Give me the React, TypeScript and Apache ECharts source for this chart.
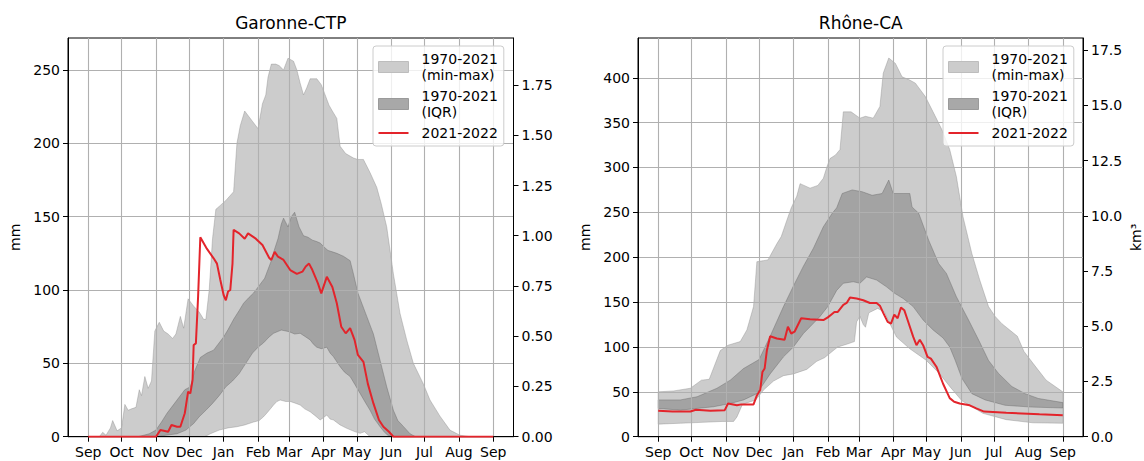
import React, { useEffect, useRef } from "react";
import * as echarts from "echarts";

// ---------- shared axis data ----------
const monthDays = [0, 30, 61, 91, 122, 153, 181, 212, 242, 273, 303, 334, 365];
const monthLabels = ["Sep", "Oct", "Nov", "Dec", "Jan", "Feb", "Mar", "Apr", "May", "Jun", "Jul", "Aug", "Sep"];
const garMmTicks = [0, 50, 100, 150, 200, 250];
const garKmTicks = [0, 0.25, 0.5, 0.75, 1.0, 1.25, 1.5, 1.75];
const rhoMmTicks = [0, 50, 100, 150, 200, 250, 300, 350, 400];
const rhoKmTicks = [0, 2.5, 5, 7.5, 10, 12.5, 15, 17.5];

const NAME_MINMAX = "1970-2021\n(min-max)";
const NAME_IQR = "1970-2021\n(IQR)";
const NAME_CUR = "2021-2022";

// ---------- Garonne-CTP (mm) ----------
const garMaxDays = [0,10,13,16,20,22,26,30,33,36,39,43,46,48,51,54,57,60,64,68,72,76,79,83,86,90,95,100,104,106,109,112,115,118,124,131,134,137,141,145,149,153,157,160,162,165,169,172,176,180,185,188,191,194,197,200,206,210,213,217,220,224,227,232,239,243,248,254,260,264,269,275,281,287,293,302,308,317,326,335,344,365];
const garMax = [0,0,3,1,6,11,4,6,22,18,19,20,32,28,41,33,38,72,78,72,70,67,70,82,74,94,89,85,80,80,100,135,155,157,161,167,200,212,222,218,214,210,227,233,245,254,254,253,250,258,256,250,241,233,238,244,244,240,234,226,222,217,198,193,190,189,189,180,170,159,143,111,84,66,50,36,25,14,4.5,1,0,0];
const garQ75Days = [0,45,55,61,66,71,75,80,87,92,96,101,107,113,118,122,126,131,136,140,145,149,155,159,162,165,168,171,174,176,180,183,186,190,194,198,202,206,209,213,216,220,224,230,236,239,243,247,251,257,263,269,275,279,284,290,295,365];
const garQ75 = [0,0,2,4.5,10,16,20,25,32,34,45,54,57,59,64,68,73,80,86,91,95,98,104,108,114,120,128,135,145,149,143,150,153,143,137,136,134,133,132,129,127,126,125,123,120,111,98,90,82,70,52,34,18,11,7,2,0,0];
const garQ25Days = [0,62,70,80,88,95,100,106,112,118,124,130,136,142,148,153,158,163,167,174,181,186,191,196,200,203,206,210,215,218,221,227,231,236,240,245,250,254,258,263,267,270,275,365];
const garQ25 = [0,0,1,2,4.5,9,13.6,18,22.7,28,34,38,43,50,57,61,64,68,70.5,72.7,71.6,70,70.5,68,66,63,61,60,61,57,54.5,47.7,44,41,36,29.5,23,18,12,6.8,3,1,0,0];
const garMinDays = [0,105,110,118,126,134,141,149,154,158,162,167,170,173,178,182,186,191,195,200,205,209,212,215,218,221,227,233,240,245,249,254,365];
const garMin = [0,0,2,4.5,6,6.8,8,10,11,13.6,17,21.6,24,25,24,24,23,21.6,19,17,14,11.4,13,14.8,12,11.4,8,5.7,3.5,2.3,3.4,0,0];
const garCurDays = [0,61,65,72,75,80,83,87,90,92,94,95,97,99,101,107,113,116,119,122,124,126,128,130,131,136,141,144,151,157,163,165,168,171,176,182,188,193,196,199,202,207,210,215,220,224,228,232,236,240,243,248,252,257,262,266,271,275,365];
const garCur = [0,0,4.5,3.4,8,6.8,6.8,16,30.7,29.5,38.6,62.5,63.6,95.5,136,128,121.6,118,107,96.6,93,99,100,118,141,138.6,135,138.6,135,130.7,122,120.5,126,122.7,120.5,113.6,111,112.5,116,118,113.6,104.5,97.7,109,102,91,75,70.5,74,66,55.7,51,36,22.7,11.4,6.8,3.4,0,0];

// ---------- Rhône-CA (mm) ----------
const rhoMaxDays = [0,14,29,39,46,51,56,63,74,80,86,89,99,107,111,116,120,125,128,137,144,149,152,155,160,164,167,174,182,187,194,200,203,208,214,220,226,232,241,250,256,263,269,275,283,290,298,304,310,318,324,330,338,350,365];
const rhoMax = [50,51,54,63,64,80,96,102,106,119,145,195,197,215,223,241,255,268,282,277,280,288,300,310,314,320,362,362,355,357,355,368,405,422,416,401,398,394,379,357,342,320,290,245,204,175,145,134,126,118,112,95,82,63,50];
const rhoQ75Days = [0,20,35,53,65,77,91,101,113,122,131,140,149,157,161,166,175,184,193,202,208,212,221,227,229,235,244,253,260,269,280,289,298,307,319,331,343,365];
const rhoQ75 = [41,41,44.5,54,63,76,86,112,145,168,190,210,234,249,255,271,275,273,269,271,286,271,271,271,256,249,219,193,182,156,130,108,85,70.5,56,48,42.6,38];
const rhoQ25Days = [0,20,35,50,65,77,89,101,113,122,131,137,146,153,161,167,176,182,188,197,206,213,221,230,239,248,257,263,268,274,283,295,313,337,365];
const rhoQ25 = [31.5,29.6,31.5,33.4,37,41,48,70,89,100,115,122.5,134,145,163,171,172.7,171,178,174.6,167,160,154,145,130,119,110,100,85,65,48,41,35,33,32];
const rhoMinDays = [0,20,40,58,68,71,76,88,95,104,113,122,134,143,150,158,162,170,177,179,182,185,187,190,198,204,209,215,227,242,254,263,274,293,314,338,365];
const rhoMin = [14,15,16,17,17,22,36,41,52,62,68,70,75,84,88,96,100,103,106,128,134,125,122,138,143,139,126,111,98,85,70,56,40,26,19,15.5,15];
const rhoCurDays = [0,13,29,34,47,60,63,71,75,86,89,92,94,96,98,101,107,114,117,120,123,126,129,137,149,153,156,159,162,167,170,173,179,185,191,197,200,203,207,210,213,216,219,222,225,230,233,236,239,243,246,251,257,263,267,272,281,287,294,314,344,365];
const rhoCur = [29,28,28,30,29,29.6,37,35,36,36,46,52,72,76,96,112,109.5,108,122.5,115,117,124.5,132,131,130,133,136,139,139,147,149,155,154,152,149,149,146,138,128,126,136,132,144,141,130,111.5,102,108,102,89,87,78,59,43,39,37,35,31.5,28,26.7,25,24];

const FONT = "'DejaVu Sans', 'Liberation Sans', sans-serif";
const BLACK = "#000000";
const GRIDC = "#b0b0b0";
const RED = "#e3242b";
// legend icon: a 2px horizontal stroke inside a 30x11 box (tiny corner anchors keep the box size)
const LINE_ICON = "path://M0,0L0.01,0L0,0.01Z M0,4.5L30,4.5L30,6.5L0,6.5Z M30,11L29.99,11L30,10.99Z";

function pairs(d: number[], v: number[]) {
  return d.map((x, i) => [x, v[i]]);
}

function band(name: string, upD: number[], upV: number[], loD: number[], loV: number[], fill: string, stroke: string, xi: number, yi: number) {
  return {
    type: "custom",
    name,
    xAxisIndex: xi,
    yAxisIndex: yi,
    z: 2,
    silent: true,
    clip: true,
    data: [[0, 0]],
    renderItem: (_p: any, api: any) => {
      const pts: number[][] = [];
      for (let i = 0; i < upD.length; i++) pts.push(api.coord([upD[i], upV[i]]));
      for (let i = loD.length - 1; i >= 0; i--) pts.push(api.coord([loD[i], loV[i]]));
      return { type: "polygon", shape: { points: pts }, style: { fill, stroke, lineWidth: 0.8 } };
    },
  };
}

function xAxis(gridIndex: number) {
  return {
    type: "value",
    gridIndex,
    min: -18.25,
    max: 383.25,
    z: 3,
    axisLine: { show: true, onZero: false, lineStyle: { color: BLACK, width: 1 } },
    axisTick: { show: true, length: 5, customValues: monthDays, lineStyle: { color: BLACK, width: 1 } },
    axisLabel: {
      customValues: monthDays,
      formatter: (v: number) => {
        const i = monthDays.indexOf(Math.round(v));
        return i >= 0 ? monthLabels[i] : "";
      },
      fontSize: 14,
      fontFamily: FONT,
      color: BLACK,
      margin: 8,
    },
    splitLine: { show: true, lineStyle: { color: GRIDC, width: 1.1 } },
  };
}

function mmAxis(gridIndex: number, max: number, ticks: number[]) {
  return {
    type: "value",
    gridIndex,
    position: "left",
    min: 0,
    max,
    z: 3,
    name: "mm",
    nameLocation: "middle",
    nameGap: 46,
    nameRotate: 90,
    nameTextStyle: { fontSize: 14, fontFamily: FONT, color: BLACK },
    axisLine: { show: true, onZero: false, lineStyle: { color: BLACK, width: 1 } },
    axisTick: { show: true, length: 5, customValues: ticks, lineStyle: { color: BLACK, width: 1 } },
    axisLabel: { customValues: ticks, fontSize: 14, fontFamily: FONT, color: BLACK, margin: 8 },
    splitLine: { show: true, lineStyle: { color: GRIDC, width: 1.1 } },
  };
}

function kmAxis(gridIndex: number, max: number, ticks: number[], digits: number, name: string) {
  return {
    type: "value",
    gridIndex,
    position: "right",
    min: 0,
    max,
    z: 3,
    name,
    nameLocation: "middle",
    nameGap: 46,
    nameRotate: 90,
    nameTextStyle: { fontSize: 14, fontFamily: FONT, color: BLACK },
    axisLine: { show: true, onZero: false, lineStyle: { color: BLACK, width: 1 } },
    axisTick: { show: true, length: 5, customValues: ticks, lineStyle: { color: BLACK, width: 1 } },
    axisLabel: {
      customValues: ticks,
      formatter: (v: number) => v.toFixed(digits),
      fontSize: 14,
      fontFamily: FONT,
      color: BLACK,
      margin: 8,
    },
    splitLine: { show: false },
  };
}

function legend(left: number) {
  return {
    left,
    top: 46,
    orient: "vertical",
    padding: [5, 6, 5, 5],
    itemGap: 5,
    itemWidth: 30,
    itemHeight: 11,
    selectedMode: false,
    backgroundColor: "rgba(255,255,255,0.8)",
    borderColor: "#cccccc",
    borderWidth: 1,
    borderRadius: 3,
    textStyle: { fontSize: 14, fontFamily: FONT, color: BLACK, lineHeight: 16, padding: [0, 0, 0, 8] },
    data: [
      { name: NAME_MINMAX, icon: "rect", itemStyle: { color: "#cccccc", borderColor: "#bdbdbd", borderWidth: 1 } },
      { name: NAME_IQR, icon: "rect", itemStyle: { color: "#a8a8a8", borderColor: "#9a9a9a", borderWidth: 1 } },
      { name: NAME_CUR, icon: LINE_ICON, itemStyle: { color: RED, borderWidth: 0 } },
    ],
  };
}

const LIGHT_FILL = "rgba(128,128,128,0.4)";
const LIGHT_STROKE = "rgba(128,128,128,0.45)";
const DARK_FILL = "rgba(112,112,112,0.45)";
const DARK_STROKE = "rgba(100,100,100,0.5)";

export default function App() {
  const ref = useRef<HTMLDivElement>(null);
  useEffect(() => {
    if (!ref.current) return;
    const chart = echarts.init(ref.current, null, { renderer: "svg" });
    const G0 = { left: 68, top: 38, width: 445.5, height: 398.7 };
    const G1 = { left: 638, top: 38, width: 445.5, height: 398.7 };
    chart.setOption({
      animation: false,
      backgroundColor: "#ffffff",
      textStyle: { fontFamily: FONT },
      graphic: [
        { type: "text", x: G0.left + G0.width / 2, y: 23, style: { text: "Garonne-CTP", fontSize: 17, fontFamily: FONT, fill: BLACK, align: "center", verticalAlign: "middle" } },
        { type: "text", x: G1.left + G1.width / 2, y: 23, style: { text: "Rhône-CA", fontSize: 17, fontFamily: FONT, fill: BLACK, align: "center", verticalAlign: "middle" } },
      ],
      grid: [
        { ...G0, show: true, borderColor: BLACK, borderWidth: 1, backgroundColor: "transparent" },
        { ...G1, show: true, borderColor: BLACK, borderWidth: 1, backgroundColor: "transparent" },
      ],
      legend: [legend(373), legend(943)],
      xAxis: [xAxis(0), xAxis(1)],
      yAxis: [
        mmAxis(0, 271.8, garMmTicks),
        kmAxis(0, 1.984, garKmTicks, 2, ""),
        mmAxis(1, 444.3, rhoMmTicks),
        kmAxis(1, 18.05, rhoKmTicks, 1, "km³"),
      ],
      series: [
        band(NAME_MINMAX, garMaxDays, garMax, garMinDays, garMin, LIGHT_FILL, LIGHT_STROKE, 0, 0),
        band(NAME_IQR, garQ75Days, garQ75, garQ25Days, garQ25, DARK_FILL, DARK_STROKE, 0, 0),
        {
          type: "line", name: NAME_CUR, xAxisIndex: 0, yAxisIndex: 0, z: 5, symbol: "none",
          data: pairs(garCurDays, garCur), lineStyle: { color: RED, width: 2 }, itemStyle: { color: RED },
        },
        band(NAME_MINMAX, rhoMaxDays, rhoMax, rhoMinDays, rhoMin, LIGHT_FILL, LIGHT_STROKE, 1, 2),
        band(NAME_IQR, rhoQ75Days, rhoQ75, rhoQ25Days, rhoQ25, DARK_FILL, DARK_STROKE, 1, 2),
        {
          type: "line", name: NAME_CUR, xAxisIndex: 1, yAxisIndex: 2, z: 5, symbol: "none",
          data: pairs(rhoCurDays, rhoCur), lineStyle: { color: RED, width: 2 }, itemStyle: { color: RED },
        },
      ],
    });
    return () => chart.dispose();
  }, []);
  return <div ref={ref} style={{ position: "fixed", left: 0, top: 0, width: 1144, height: 461 }} />;
}
